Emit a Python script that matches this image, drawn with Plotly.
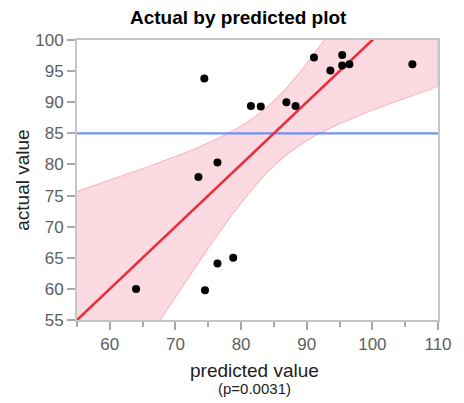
import numpy as np
import plotly.graph_objects as go

# Observations: predicted vs actual
predicted = [64.0, 73.5, 74.4, 74.5, 76.4, 76.4, 78.8, 81.5, 83.0, 86.9,
             88.3, 91.1, 93.6, 95.4, 95.4, 96.5, 106.1]
actual = [60.0, 78.0, 93.8, 59.8, 80.3, 64.1, 65.0, 89.4, 89.3, 90.0,
          89.4, 97.2, 95.1, 97.6, 95.9, 96.1, 96.1]

x_range = [55, 110]
y_range = [55, 100]
mean_actual = 85.0
p_value = "0.0031"

# Confidence curve parameters around the fit line y = x
band_center = 85.0
band_c = 5.2
band_k = 0.667

xs = np.linspace(x_range[0], x_range[1], 200)
half = np.sqrt(band_c ** 2 + (band_k * (xs - band_center)) ** 2)
upper = xs + half
lower = xs - half

fig = go.Figure()

# shaded confidence region
fig.add_trace(go.Scatter(
    x=np.concatenate([xs, xs[::-1]]),
    y=np.concatenate([upper, lower[::-1]]),
    fill="toself", fillcolor="rgba(245,160,175,0.38)",
    line=dict(color="rgba(245,150,165,0.55)", width=1.2),
    mode="lines", hoverinfo="skip", showlegend=False,
))

# mean of actual values
fig.add_trace(go.Scatter(
    x=x_range, y=[mean_actual, mean_actual], mode="lines",
    line=dict(color="#6f93f2", width=2.4), showlegend=False,
))

# fit line
fig.add_trace(go.Scatter(
    x=x_range, y=x_range, mode="lines",
    line=dict(color="#ea2f3c", width=2.6), showlegend=False,
))

# data points
fig.add_trace(go.Scatter(
    x=predicted, y=actual, mode="markers",
    marker=dict(color="black", size=8), showlegend=False,
))

axis_common = dict(
    showgrid=False, zeroline=False, showline=True, mirror=True,
    linecolor="#c6c6c6", linewidth=2,
    ticks="outside", ticklen=8, tickwidth=1.5, tickcolor="#a8a8a8",
    tickfont=dict(family="Liberation Sans, Arial", size=17, color="#5e5e5e"),
)

fig.update_xaxes(
    range=x_range, tickvals=[60, 70, 80, 90, 100, 110],
    minor=dict(dtick=5, tick0=55, ticks="outside", ticklen=5,
               tickcolor="#a8a8a8", tickwidth=1.5),
    **axis_common,
)
fig.update_yaxes(
    range=y_range, tickvals=list(range(55, 101, 5)),
    **axis_common,
)

annotations = [
    dict(text="<b>Actual by predicted plot</b>", x=0.446, y=1.079,
         font=dict(size=19, color="black")),
    dict(text="predicted value", x=0.492, y=-0.179,
         font=dict(size=19, color="#222")),
    dict(text="(p=" + p_value + ")", x=0.492, y=-0.243,
         font=dict(size=15, color="#222")),
    dict(text="actual value", x=-0.153, y=0.5, textangle=-90,
         font=dict(size=19, color="#222")),
]
for a in annotations:
    a.update(xref="paper", yref="paper", showarrow=False,
             xanchor="center", yanchor="middle")

fig.update_layout(
    width=464, height=403,
    margin=dict(l=77, r=15, t=40, b=83),
    plot_bgcolor="white", paper_bgcolor="white",
    font=dict(family="Liberation Sans, Arial"),
    annotations=annotations,
)

fig.write_html("out.html")
